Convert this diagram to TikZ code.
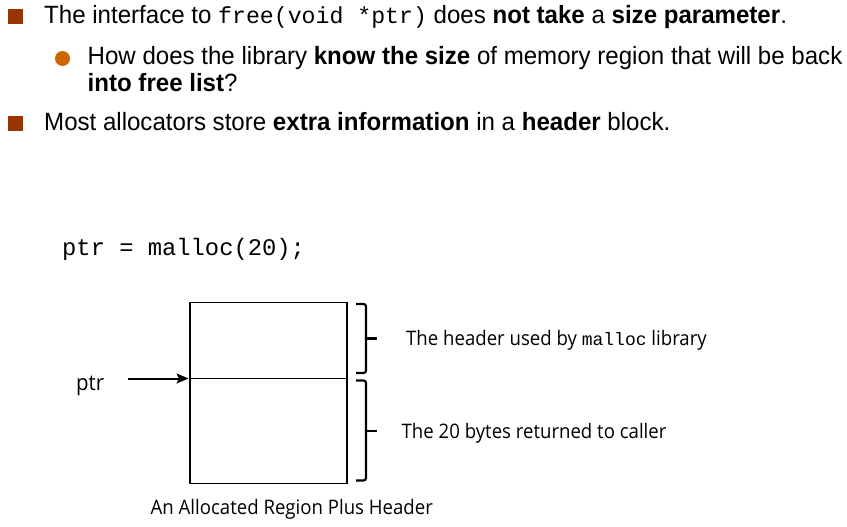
\documentclass[tikz,border=0pt]{standalone}
\usepackage{fontspec}
\setmainfont[FakeStretch=0.963]{Liberation Sans}
\setmonofont{Liberation Mono}
\newfontfamily\lblfont[FakeStretch=0.93]{Open Sans}
\usetikzlibrary{arrows.meta}
\definecolor{sqred}{HTML}{993300}
\definecolor{dotor}{HTML}{CC6600}
\begin{document}
\begin{tikzpicture}[x=1pt,y=-1pt,
  txt/.style={anchor=base west, inner sep=0pt, font=\fontsize{25}{30}\selectfont},
  code/.style={anchor=base west, inner sep=0pt, font=\fontsize{23.8}{28}\ttfamily},
  lbl/.style={anchor=base west, inner sep=0pt, font=\lblfont\fontsize{20}{24}\selectfont},
  sqbul/.style={rectangle, fill=sqred, minimum size=15pt, inner sep=0pt},
  dotbul/.style={circle, fill=dotor, minimum size=15pt, inner sep=0pt},
  cell/.style={rectangle, draw, line width=1.6pt, minimum width=157pt, inner sep=0pt, outer sep=0pt},
  bracket/.style={line width=2.2pt, rounded corners=2.5pt},
  ptrarrow/.style={line width=2pt, -{Stealth[length=12pt,width=10pt,inset=2.5pt]}}
]
\useasboundingbox (0,0) rectangle (847,527);
\fill[white] (0,0) rectangle (847,527);

\node[sqbul] (b1) at (15.5,17) {};
\node[txt] (t1) at (44,24) {The interface to {\fontsize{23.2}{28}\ttfamily free(void *ptr)} does \textbf{not take} a \textbf{size parameter}.};
\node[dotbul] (b2) at (62.5,58.5) {};
\node[txt] (t2) at (87.5,65) {How does the library \textbf{know the size} of memory region that will be back};
\node[txt] (t2b) at (87.5,92) {\textbf{into free list}?};
\node[sqbul] (b3) at (15.5,123.5) {};
\node[txt] (t3) at (44,131) {Most allocators store \textbf{extra information} in a \textbf{header} block.};

\node[code] (c1) at (62,255) {ptr = malloc(20);};

\node[cell, minimum height=76pt, anchor=north west] (hdr) at (190,302.5) {};
\node[cell, minimum height=105pt, anchor=north west] (body) at (hdr.south west) {};

\draw[bracket] (356,304) -- (366,304) -- (366,373) -- (356,373);
\coordinate (k1) at (366,338.5);
\draw[line width=2.2pt] (k1) -- ++(11,0);
\draw[bracket] (356,380.5) -- (366,380.5) -- (366,480.5) -- (356,480.5);
\coordinate (k2) at (366,431);
\draw[line width=2.2pt] (k2) -- ++(11,0);

\node[lbl] (l1) at (406,345) {The header used by {\fontsize{18}{22}\ttfamily malloc} library};
\node[lbl] (l2) at (401.5,438) {The 20 bytes returned to caller};

\node[lbl, font=\lblfont\fontsize{22}{26}\selectfont] (p) at (76,390) {ptr};
\coordinate (as) at (128,378.5);
\draw[ptrarrow] (as) -- ([xshift=-1.5pt]hdr.south west);

\node[lbl] (cap) at (150.5,514) {An Allocated Region Plus Header};
\end{tikzpicture}
\end{document}
